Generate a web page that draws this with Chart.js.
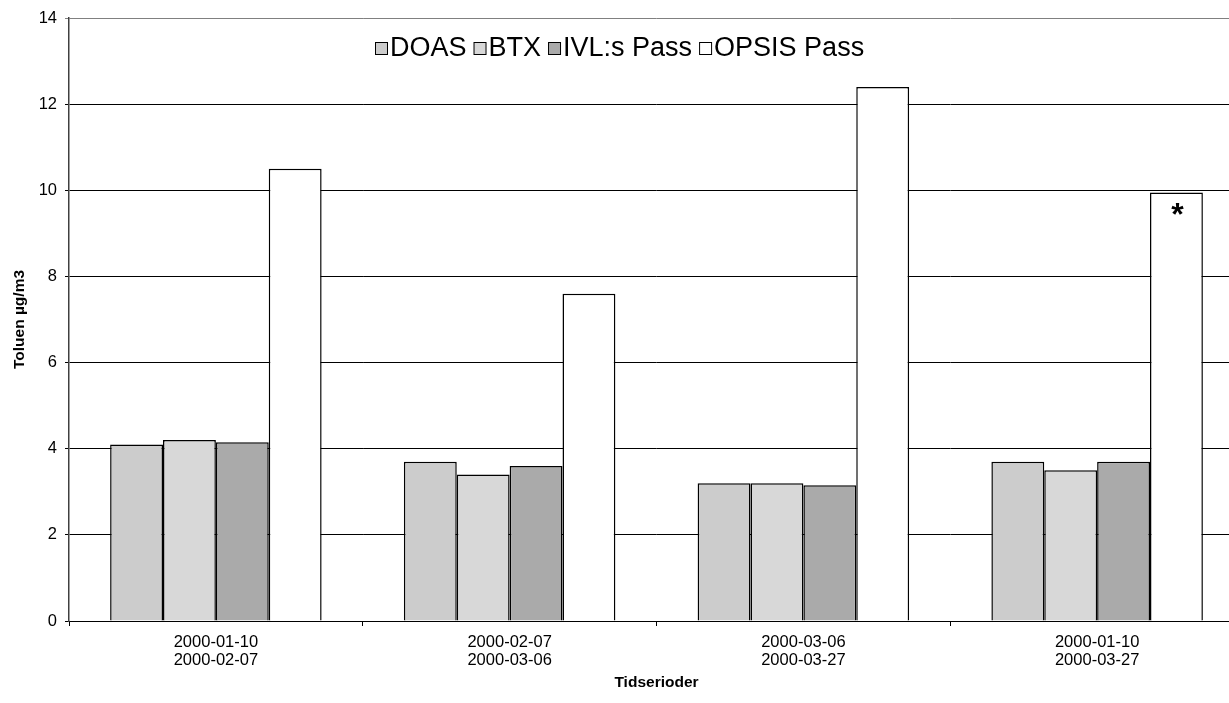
<!DOCTYPE html>
<html>
<head>
<meta charset="utf-8">
<title>Toluen</title>
<script src="https://cdn.jsdelivr.net/npm/chart.js@4/dist/chart.umd.min.js"></script>
<style>
  html, body { margin: 0; padding: 0; background: #fff; overflow: hidden; }
  #wrap { position: absolute; left: 0; top: 0; width: 1229px; height: 703px; overflow: hidden; }
  canvas { position: absolute; left: 0; top: 0; }
</style>
</head>
<body>
<div id="wrap"><canvas id="chart" width="1260" height="703"></canvas></div>
<script>
/* ===== DATA ===== */
const periods = [
  ['2000-01-10', '2000-02-07'],
  ['2000-02-07', '2000-03-06'],
  ['2000-03-06', '2000-03-27'],
  ['2000-01-10', '2000-03-27']
];
const doas  = [4.1, 3.7, 3.2, 3.7];
const btx   = [4.2, 3.4, 3.2, 3.5];
const ivl   = [4.15, 3.6, 3.15, 3.7];
const opsis = [10.5, 7.6, 12.4, 9.95];
const yTicks = [0, 2, 4, 6, 8, 10, 12, 14];

const FONT = "'Liberation Sans', Arial, sans-serif";

/* ===== LEGEND (drawn inside the plot area) ===== */
const innerLegend = {
  id: 'innerLegend',
  afterDraw(chart) {
    const ctx = chart.ctx;
    const box = 12;
    let x = 375;
    const y = 48;
    ctx.save();
    ctx.font = '27px ' + FONT;
    ctx.textBaseline = 'middle';
    chart.data.datasets.forEach(ds => {
      ctx.fillStyle = ds.backgroundColor;
      ctx.fillRect(x + 0.5, y - box / 2 + 0.5, box, box);
      ctx.strokeStyle = '#000';
      ctx.lineWidth = 1;
      ctx.strokeRect(x + 0.5, y - box / 2 + 0.5, box, box);
      x += box + 3;
      ctx.fillStyle = '#000';
      ctx.fillText(ds.label, x, y + 1);
      x += ctx.measureText(ds.label).width + 7;
    });
    ctx.restore();
  }
};

/* ===== ASTERISK ON LAST OPSIS BAR ===== */
const starMark = {
  id: 'starMark',
  afterDatasetsDraw(chart) {
    const meta = chart.getDatasetMeta(3);
    const bar = meta.data[meta.data.length - 1];
    const ctx = chart.ctx;
    ctx.save();
    ctx.font = 'bold 32px ' + FONT;
    ctx.fillStyle = '#000';
    ctx.textAlign = 'center';
    ctx.textBaseline = 'top';
    ctx.fillText('*', bar.x + 1, bar.y + 8);
    ctx.restore();
  }
};

const barStyle = { borderColor: '#000', borderWidth: 1.5, categoryPercentage: 0.72, barPercentage: 1 };

new Chart(document.getElementById('chart'), {
  type: 'bar',
  data: {
    labels: periods,
    datasets: [
      { label: 'DOAS', data: doas, backgroundColor: '#cccccc', ...barStyle },
      { label: 'BTX', data: btx, backgroundColor: '#d8d8d8', ...barStyle },
      { label: 'IVL:s Pass', data: ivl, backgroundColor: '#aaaaaa', ...barStyle },
      { label: 'OPSIS Pass', data: opsis, backgroundColor: '#ffffff', ...barStyle }
    ]
  },
  options: {
    responsive: false,
    animation: false,
    layout: { padding: { left: 0, top: 18, right: 16, bottom: 0 } },
    plugins: {
      legend: { display: false },
      tooltip: { enabled: false }
    },
    scales: {
      x: {
        afterFit: s => { s.height = 82; },
        grid: { offset: true, drawOnChartArea: false, color: '#000', tickLength: 5 },
        border: { color: '#000', width: 1 },
        ticks: { color: '#000', padding: 7, font: { family: FONT, size: 16.5, lineHeight: 1.1 }, maxRotation: 0 },
        title: { display: true, text: 'Tidserioder', color: '#000', padding: { top: 0, bottom: 11 }, font: { family: FONT, size: 15.5, weight: 'bold' } }
      },
      y: {
        min: 0,
        max: 14,
        afterFit: s => { s.width = 69; },
        afterBuildTicks: s => { s.ticks = yTicks.map(v => ({ value: v })); },
        grid: { color: c => c.tick && c.tick.value === 14 ? '#808080' : '#000', tickLength: 4 },
        border: { color: '#404040', width: 1.5 },
        ticks: { color: '#000', padding: 8, font: { family: FONT, size: 16.5 } },
        title: { display: true, text: 'Toluen µg/m3', color: '#000', padding: { top: 10, bottom: 0 }, font: { family: FONT, size: 15.5, weight: 'bold' } }
      }
    }
  },
  plugins: [innerLegend, starMark]
});
</script>
</body>
</html>
